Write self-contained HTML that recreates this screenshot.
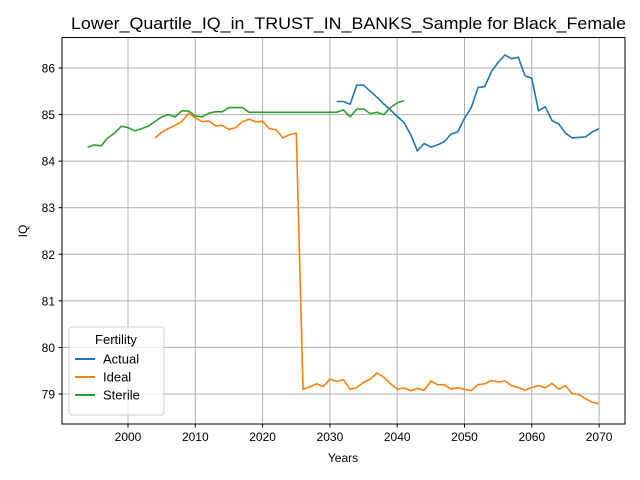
<!DOCTYPE html>
<html><head><meta charset="utf-8"><style>body{margin:0;background:#fff}svg{display:block;font-family:"Liberation Sans","DejaVu Sans",sans-serif}</style></head>
<body>
<svg id="chart" width="640" height="480">
<rect width="640" height="480" fill="#fff"/>
<text x="71" y="29" font-size="17" textLength="555" lengthAdjust="spacingAndGlyphs">Lower_Quartile_IQ_in_TRUST_IN_BANKS_Sample for Black_Female</text>
<g id="grid"></g><g id="series"></g><g id="axes"></g>
<rect x="62" y="37.5" width="563" height="386.5" fill="none" stroke="#000" stroke-width="1"/>
<text x="343" y="462" text-anchor="middle" font-size="12">Years</text>
<text x="27" y="231" text-anchor="middle" font-size="12" transform="rotate(-90 27 231)">IQ</text>
<g>
<rect x="69" y="327" width="95" height="88" rx="3" fill="#fff" fill-opacity="0.8" stroke="#ccc"/>
<text x="116" y="344" text-anchor="middle" font-size="13">Fertility</text>
<line x1="75" y1="359" x2="95" y2="359" stroke="#1f77b4" stroke-width="2"/><text x="103" y="363.5" font-size="13">Actual</text>
<line x1="75" y1="377" x2="95" y2="377" stroke="#ff7f0e" stroke-width="2"/><text x="103" y="381.5" font-size="13">Ideal</text>
<line x1="75" y1="395" x2="95" y2="395" stroke="#2ca02c" stroke-width="2"/><text x="103" y="399.5" font-size="13">Sterile</text>
</g>
</svg>
<script>
const xTicks=[2000,2010,2020,2030,2040,2050,2060,2070];
const yTicks=[79,80,81,82,83,84,85,86];
const actualStart=2031;
const actualValues=[85.28,85.28,85.22,85.63,85.63,85.5,85.37,85.23,85.1,84.96,84.83,84.57,84.22,84.38,84.3,84.35,84.42,84.58,84.63,84.92,85.15,85.58,85.6,85.92,86.12,86.28,86.2,86.23,85.83,85.78,85.08,85.17,84.87,84.8,84.6,84.5,84.51,84.52,84.63,84.7];
const idealStart=2004;
const idealValues=[84.5,84.62,84.7,84.77,84.85,85.03,84.93,84.85,84.86,84.76,84.77,84.68,84.72,84.85,84.9,84.84,84.86,84.7,84.67,84.5,84.57,84.6,79.1,79.15,79.22,79.16,79.32,79.27,79.31,79.1,79.14,79.25,79.32,79.45,79.36,79.22,79.1,79.13,79.07,79.12,79.08,79.28,79.2,79.2,79.11,79.13,79.1,79.07,79.2,79.22,79.29,79.26,79.28,79.18,79.14,79.08,79.14,79.18,79.13,79.23,79.1,79.18,79.01,78.99,78.9,78.82,78.79];
const sterileStart=1994;
const sterileValues=[84.3,84.35,84.33,84.5,84.6,84.75,84.72,84.65,84.7,84.75,84.85,84.95,85.0,84.95,85.08,85.08,84.97,84.95,85.03,85.06,85.06,85.15,85.15,85.15,85.05,85.05,85.05,85.05,85.05,85.05,85.05,85.05,85.05,85.05,85.05,85.05,85.05,85.05,85.1,84.95,85.12,85.12,85.02,85.05,85.0,85.15,85.25,85.3];
const NS='http://www.w3.org/2000/svg';
function X(yr){return 128+(yr-2000)*6.73;}
function Y(v){return 394-(v-79)*46.57;}
const grid=document.getElementById('grid'),axes=document.getElementById('axes'),ser=document.getElementById('series');
function mk(tag,attrs,parent){const e=document.createElementNS(NS,tag);for(const k in attrs)e.setAttribute(k,attrs[k]);parent.appendChild(e);return e;}
xTicks.forEach(t=>{const x=X(t);
 const g=mk('line',{x1:x,x2:x,y1:37.5,y2:424,stroke:'#b0b0b0','stroke-width':1},grid);
 
 
 mk('line',{x1:x,x2:x,y1:424,y2:427.5,stroke:'#000'},axes);
 const tx=mk('text',{x:x,y:441,'text-anchor':'middle','font-size':12},axes);tx.textContent=t;
 
 
});
yTicks.forEach(t=>{const y=Y(t);
 const g=mk('line',{x1:62,x2:625,y1:y,y2:y,stroke:'#b0b0b0','stroke-width':1},grid);
 
 
 mk('line',{x1:58.5,x2:62,y1:y,y2:y,stroke:'#000'},axes);
 const tx=mk('text',{x:55,y:y+4.5,'text-anchor':'end','font-size':12},axes);tx.textContent=t;
 
 
});
function line(start,vals,color,name){
 const pts=vals.map((v,i)=>X(start+i).toFixed(1)+','+Y(v).toFixed(1)).join(' ');
 const p=mk('polyline',{points:pts,fill:'none',stroke:color,'stroke-width':1.6,'stroke-linejoin':'round'},ser);
 
 
}
line(actualStart,actualValues,'#1f77b4','actual-line');
line(idealStart,idealValues,'#ff7f0e','ideal-line');
line(sterileStart,sterileValues,'#2ca02c','sterile-line');
</script>
</body></html>
